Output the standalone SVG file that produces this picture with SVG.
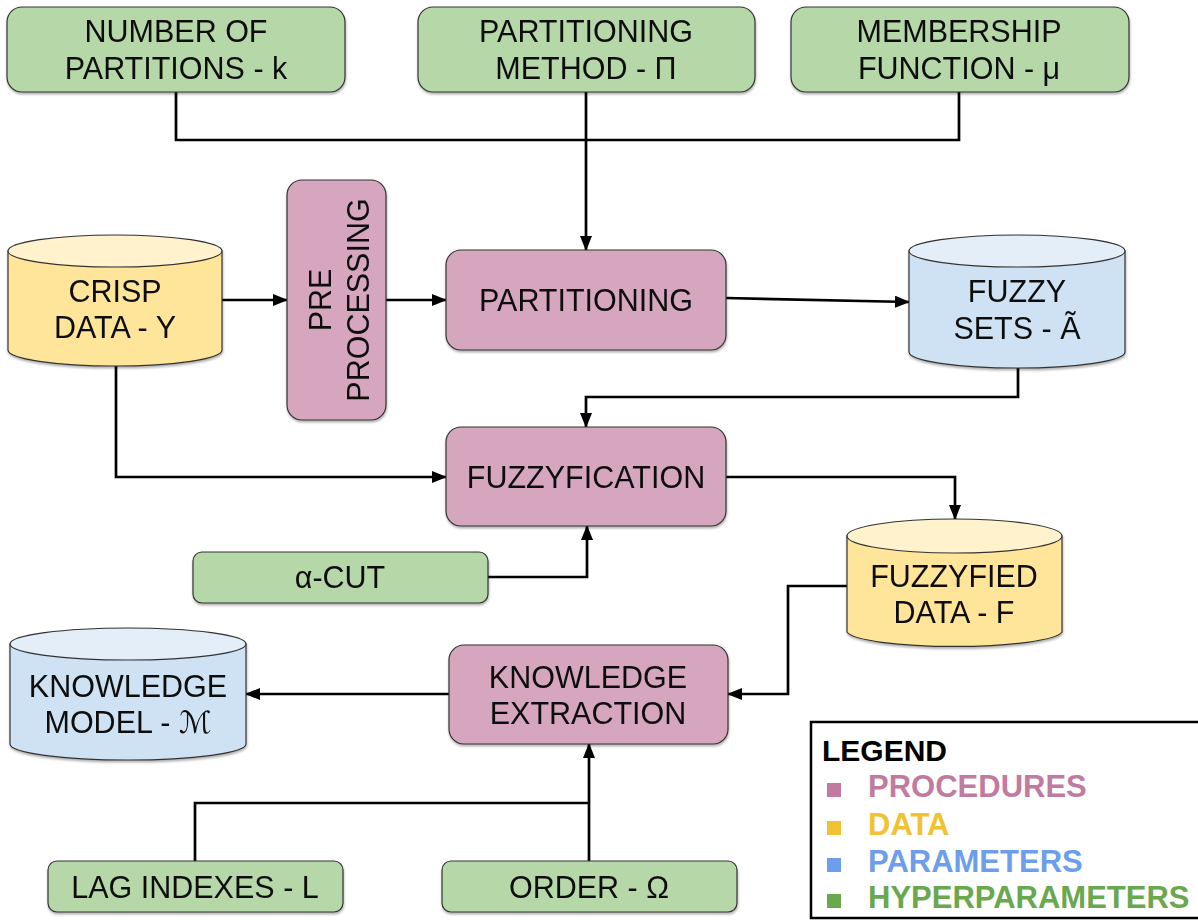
<svg xmlns="http://www.w3.org/2000/svg" width="1198" height="920" viewBox="0 0 1198 920">
<style>
text{font-family:"Liberation Sans",Arial,sans-serif;font-size:30.5px;fill:#111;text-anchor:middle}
.hyp{fill:#b6d7a8;stroke:#333;stroke-width:1.2}
.proc{fill:#d5a6bd;stroke:#333;stroke-width:1.2}
.yb{fill:#ffe599;stroke:#333;stroke-width:1.2}
.yt{fill:#fff2cc;stroke:#333;stroke-width:1.2}
.bb{fill:#cfe2f3;stroke:#333;stroke-width:1.2}
.bt{fill:#e3eef8;stroke:#333;stroke-width:1.2}
.c{fill:none;stroke:#000;stroke-width:2.7}
.a{marker-end:url(#arr)}
.lg{font-weight:bold;text-anchor:start;font-size:31px}
</style>
<defs>
<marker id="arr" markerUnits="userSpaceOnUse" markerWidth="15" markerHeight="12" refX="14" refY="6" orient="auto">
<path d="M0,0 L15,6 L0,12 z" fill="#000"/>
</marker>
<filter id="sh" x="-5%" y="-5%" width="110%" height="120%">
<feDropShadow dx="0.5" dy="2" stdDeviation="1.2" flood-color="#000" flood-opacity="0.3"/>
</filter>
</defs>

<g id="connectors">
<polyline class="c" points="176,92 176,140 959,140 959,92"/>
<polyline class="c a" points="586,92 586,250"/>
<polyline class="c a" points="222,300 287,300"/>
<polyline class="c a" points="386,300 446,300"/>
<polyline class="c a" points="726,298 909,302"/>
<polyline class="c a" points="1018,368 1018,397 586,397 586,427"/>
<polyline class="c a" points="116,366 116,477 446,477"/>
<polyline class="c a" points="726,477 955,477 955,519"/>
<polyline class="c a" points="488,577 587,577 587,526"/>
<polyline class="c a" points="847,586 788,586 788,694 728,694"/>
<polyline class="c a" points="449,694 246,694"/>
<polyline class="c" points="195,861 195,803 589,803"/>
<polyline class="c a" points="589,861 589,744"/>
</g>

<g id="num-partitions" filter="url(#sh)">
<rect class="hyp" x="7" y="7" width="338" height="85" rx="15"/>
<text x="176" y="42">NUMBER OF</text>
<text x="176" y="79">PARTITIONS - k</text>
</g>
<g id="partitioning-method" filter="url(#sh)">
<rect class="hyp" x="418" y="7" width="337" height="85" rx="15"/>
<text x="586" y="42">PARTITIONING</text>
<text x="586" y="79">METHOD - Π</text>
</g>
<g id="membership-function" filter="url(#sh)">
<rect class="hyp" x="791" y="7" width="338" height="85" rx="15"/>
<text x="959" y="42">MEMBERSHIP</text>
<text x="959" y="79">FUNCTION - μ</text>
</g>

<g id="crisp-data" filter="url(#sh)">
<path class="yb" d="M8,251 L8,350 A107,16 0 0 0 222,350 L222,251 Z"/>
<ellipse class="yt" cx="115" cy="251" rx="107" ry="16"/>
<text x="115" y="302">CRISP</text>
<text x="115" y="338">DATA - Y</text>
</g>

<g id="preprocessing" filter="url(#sh)">
<rect class="proc" x="287" y="180" width="99" height="240" rx="15"/>
<text transform="translate(336,300) rotate(-90)"><tspan x="0" y="-5">PRE</tspan><tspan x="0" y="33">PROCESSING</tspan></text>
</g>

<g id="partitioning" filter="url(#sh)">
<rect class="proc" x="446" y="250" width="280" height="100" rx="15"/>
<text x="586" y="311">PARTITIONING</text>
</g>

<g id="fuzzy-sets" filter="url(#sh)">
<path class="bb" d="M909,251 L909,352 A108,16 0 0 0 1125,352 L1125,251 Z"/>
<ellipse class="bt" cx="1017" cy="251" rx="108" ry="16"/>
<text x="1017" y="302">FUZZY</text>
<text x="1017" y="339">SETS - Ã</text>
</g>

<g id="fuzzyfication" filter="url(#sh)">
<rect class="proc" x="446" y="427" width="280" height="99" rx="15"/>
<text x="586" y="488">FUZZYFICATION</text>
</g>

<g id="alpha-cut" filter="url(#sh)">
<rect class="hyp" x="193" y="552" width="295" height="51" rx="9"/>
<text x="340" y="588">α-CUT</text>
</g>

<g id="fuzzyfied-data" filter="url(#sh)">
<path class="yb" d="M847,536 L847,632 A108,16 0 0 0 1062,632 L1062,536 Z"/>
<ellipse class="yt" cx="954.5" cy="536" rx="107.5" ry="17"/>
<text x="954" y="587">FUZZYFIED</text>
<text x="954" y="623">DATA - F</text>
</g>

<g id="knowledge-extraction" filter="url(#sh)">
<rect class="proc" x="449" y="645" width="279" height="99" rx="15"/>
<text x="588" y="688">KNOWLEDGE</text>
<text x="588" y="724">EXTRACTION</text>
</g>

<g id="knowledge-model" filter="url(#sh)">
<path class="bb" d="M10,644 L10,744 A118,16 0 0 0 246,744 L246,644 Z"/>
<ellipse class="bt" cx="128" cy="644" rx="118" ry="16"/>
<text x="128" y="697">KNOWLEDGE</text>
<text x="128" y="733">MODEL - <tspan style="font-family:'DejaVu Serif','DejaVu Sans',serif">ℳ</tspan></text>
</g>

<g id="lag-indexes" filter="url(#sh)">
<rect class="hyp" x="48" y="861" width="295" height="51" rx="9"/>
<text x="195" y="898">LAG INDEXES - L</text>
</g>

<g id="order" filter="url(#sh)">
<rect class="hyp" x="442" y="861" width="295" height="51" rx="9"/>
<text x="589" y="898">ORDER - Ω</text>
</g>

<g id="legend">
<rect x="811" y="722" width="400" height="196" fill="#fff" stroke="#000" stroke-width="2.5"/>
<text class="lg" x="822" y="761" style="fill:#000;font-size:30px">LEGEND</text>
<rect x="827" y="783" width="14" height="14" fill="#c27ba0"/>
<text class="lg" x="868" y="797" style="fill:#c27ba0">PROCEDURES</text>
<rect x="827" y="821" width="14" height="14" fill="#f1c232"/>
<text class="lg" x="868" y="835" style="fill:#f1c232">DATA</text>
<rect x="827" y="858" width="14" height="14" fill="#6d9eeb"/>
<text class="lg" x="868" y="872" style="fill:#6d9eeb">PARAMETERS</text>
<rect x="827" y="894" width="14" height="14" fill="#6aa84f"/>
<text class="lg" x="868" y="908" style="fill:#6aa84f">HYPERPARAMETERS</text>
</g>
</svg>
